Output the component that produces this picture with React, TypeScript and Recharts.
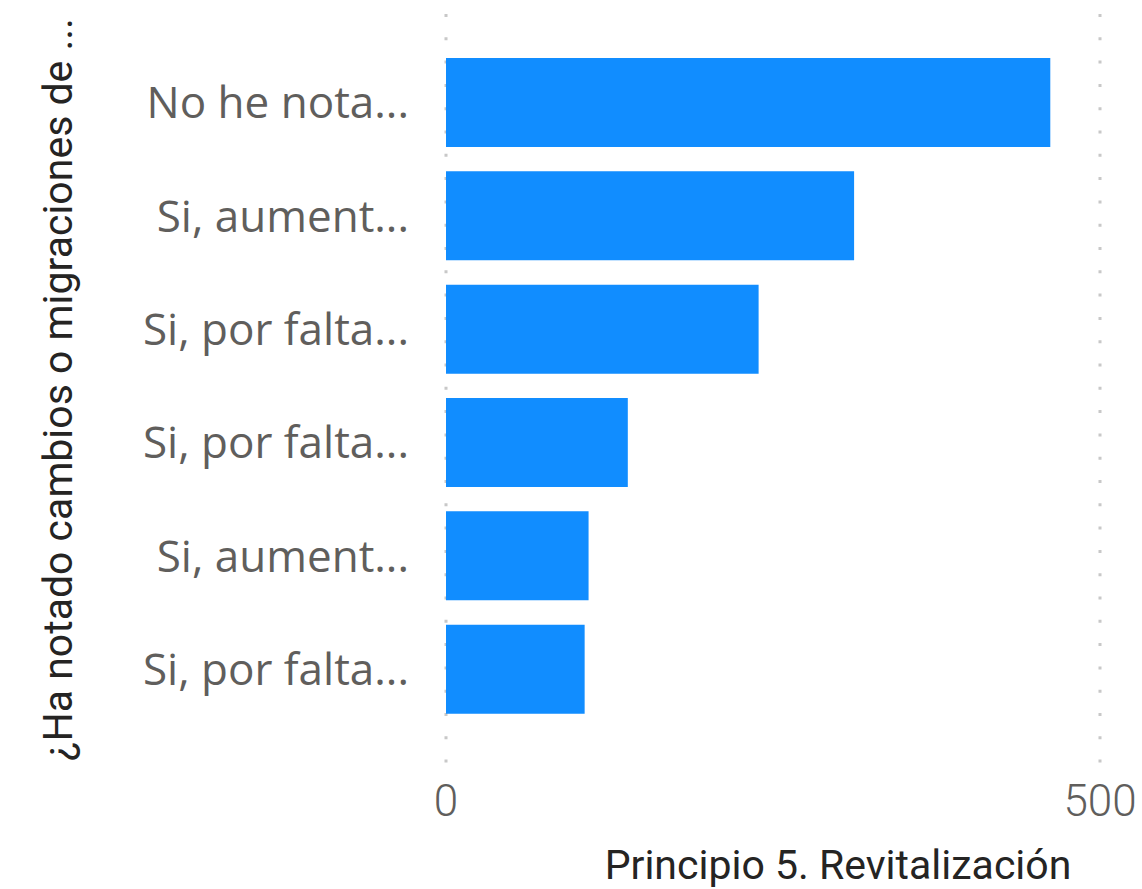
import React from "react";
import { BarChart, Bar, XAxis, YAxis, CartesianGrid } from "recharts";

const categories = [
  "No he nota...",
  "Si, aument...",
  "Si, por falta...",
  "Si, por falta...",
  "Si, aument...",
  "Si, por falta...",
];
const values = [462, 312, 239, 139, 109, 106];
const xTicks = [0, 500];

const data = categories.map((name, i) => ({ id: i, name, value: values[i] }));

const App: React.FC = () => {
  return (
    <div style={{ position: "absolute", left: 0, top: 0, background: "#fff" }}>
      <BarChart
        width={1142}
        height={889}
        data={data}
        layout="vertical"
        margin={{ top: 14, right: 42, left: 0, bottom: 0 }}
      >
        <CartesianGrid
          horizontal={false}
          stroke="#C8C8C8"
          strokeWidth={3}
          strokeDasharray="3 20.3"
        />
        <XAxis
          type="number"
          domain={[0, 500]}
          ticks={xTicks}
          axisLine={false}
          tickLine={false}
          tickSize={0}
          tickMargin={20}
          height={124}
          tick={{ fill: "#605E5C", fontSize: 44, fontFamily: "Roboto", fontWeight: 300 }}
          label={{
            value: "Principio 5. Revitalización",
            position: "insideBottom",
            offset: 10,
            dx: 65,
            fill: "#252423",
            fontSize: 41,
            fontFamily: "Roboto",
          }}
        />
        <YAxis
          type="category"
          dataKey="id"
          tickFormatter={(i: number) => categories[i]}
          width={446}
          axisLine={false}
          tickLine={false}
          tickSize={0}
          tickMargin={37}
          padding={{ top: 32, bottom: 39 }}
          tick={{ fill: "#605E5C", fontSize: 44, fontFamily: "Open Sans" }}
          label={{
            value: "¿Ha notado cambios o migraciones de ...",
            angle: -90,
            position: "insideLeft",
            offset: 57,
            style: { textAnchor: "middle" },
            fill: "#252423",
            fontSize: 41,
            fontFamily: "Roboto",
          }}
        />
        <Bar dataKey="value" fill="#118DFF" barSize={89} isAnimationActive={false} />
      </BarChart>
    </div>
  );
};

export default App;
